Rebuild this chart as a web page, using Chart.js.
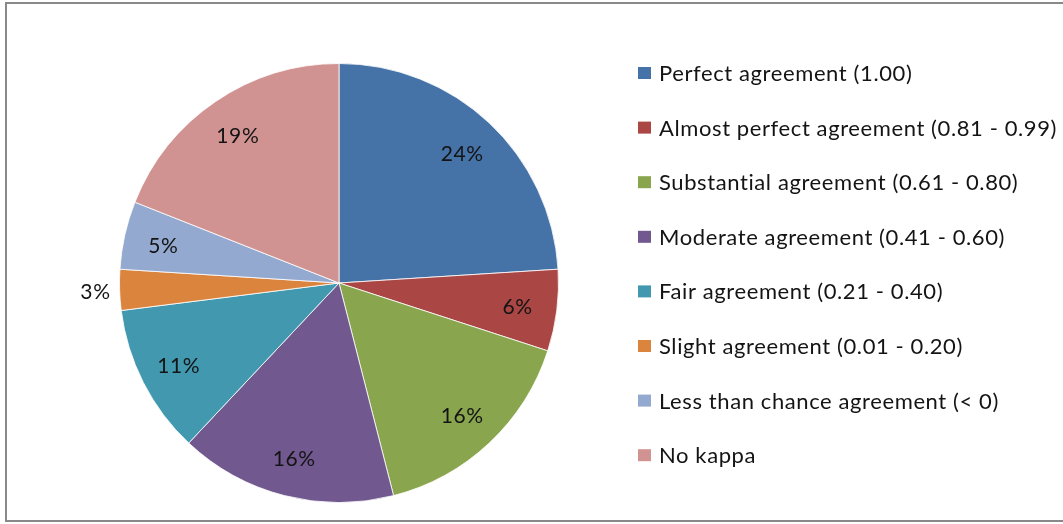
<!DOCTYPE html>
<html>
<head>
<meta charset="utf-8">
<script src="https://cdn.jsdelivr.net/npm/chart.js@4.4.1/dist/chart.umd.min.js"></script>
<style>
  html, body { margin: 0; padding: 0; background: #fff; }
  body { width: 1063px; height: 524px; position: relative; overflow: hidden; }
  #marco {
    position: absolute; left: 5px; top: 2px; width: 1080px; height: 520px;
    border: 2px solid #898989; box-sizing: border-box;
  }
  #lienzo { position: absolute; left: 0; top: 0; }
</style>
</head>
<body>
<div id="marco"></div>
<canvas id="lienzo" width="1063" height="524"></canvas>
<script>
// Datos del gráfico
const categorias = [
    'Perfect agreement (1.00)',
    'Almost perfect agreement (0.81 - 0.99)',
    'Substantial agreement (0.61 - 0.80)',
    'Moderate agreement (0.41 - 0.60)',
    'Fair agreement (0.21 - 0.40)',
    'Slight agreement (0.01 - 0.20)',
    'Less than chance agreement (< 0)',
    'No kappa'
];
const porcentajes = [24, 6, 16, 16, 11, 3, 5, 19];
const colores = ['#4572A7', '#AA4643', '#89A54E', '#71588F', '#4198AF', '#DB843D', '#93A9CF', '#D19392'];

const FUENTE = 'Lato, "Open Sans", sans-serif';

// ─── Etiquetas de porcentaje sobre cada porción ───────────────────
const etiquetasPorcentaje = {
    id: 'etiquetasPorcentaje',
    afterDatasetsDraw(chart) {
        const ctx = chart.ctx;
        const meta = chart.getDatasetMeta(0);
        ctx.save();
        ctx.font = '21px ' + FUENTE;
        ctx.letterSpacing = '0.6px';
        ctx.fillStyle = '#141414';
        ctx.textAlign = 'center';
        ctx.textBaseline = 'middle';
        meta.data.forEach((arc, i) => {
            const p = arc.getProps(['x', 'y', 'startAngle', 'endAngle', 'outerRadius'], true);
            const medio = (p.startAngle + p.endAngle) / 2;
            // las porciones muy pequeñas llevan la etiqueta fuera
            const r = porcentajes[i] <= 3 ? p.outerRadius * 1.11 : p.outerRadius * 0.82;
            ctx.fillText(porcentajes[i] + '%', p.x + Math.cos(medio) * r, p.y + Math.sin(medio) * r + 2);
        });
        ctx.restore();
    }
};

// ─── Leyenda a la derecha (una sola columna) ──────────────────────
const leyendaDerecha = {
    id: 'leyendaDerecha',
    afterDraw(chart) {
        const ctx = chart.ctx;
        const x0 = 638, y0 = 73, paso = 54.6;
        ctx.save();
        ctx.font = '22px ' + FUENTE;
        ctx.letterSpacing = '0.6px';
        ctx.textAlign = 'left';
        ctx.textBaseline = 'middle';
        chart.data.labels.forEach((txt, i) => {
            const y = y0 + i * paso;
            ctx.fillStyle = chart.data.datasets[0].backgroundColor[i];
            ctx.fillRect(x0, y - 6, 13, 12);
            ctx.fillStyle = '#141414';
            ctx.fillText(txt, x0 + 21, y + 1);
        });
        ctx.restore();
    }
};

new Chart(document.getElementById('lienzo'), {
    type: 'pie',
    data: {
        labels: categorias,
        datasets: [{
            data: porcentajes,
            backgroundColor: colores,
            borderColor: 'rgba(255,255,255,0.8)',
            borderWidth: 1
        }]
    },
    options: {
        responsive: false,
        animation: false,
        layout: { padding: { left: 119, top: 63, bottom: 21, right: 504 } },
        plugins: {
            legend: { display: false },
            tooltip: { enabled: false }
        }
    },
    plugins: [etiquetasPorcentaje, leyendaDerecha]
});
</script>
</body>
</html>
